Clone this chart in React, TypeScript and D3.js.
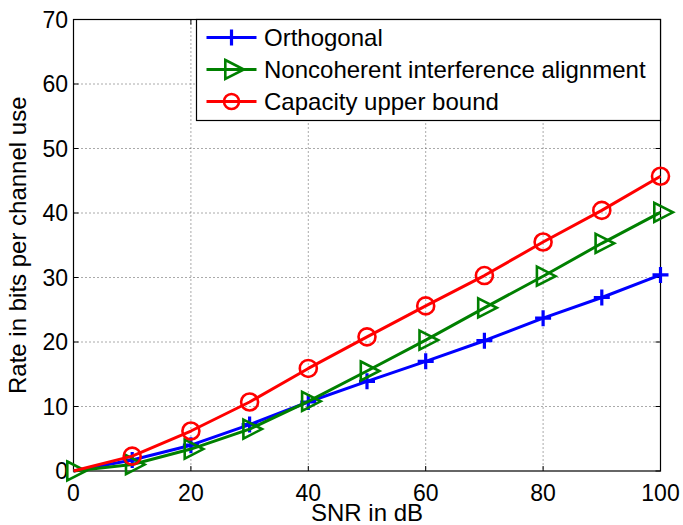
import React from "react";
import * as d3 from "d3";

// SNR grid (dB) and achievable rates (bits per channel use)
const snrDb = [0, 10, 20, 30, 40, 50, 60, 70, 80, 90, 100];
const orthogonal = [0, 1.7, 4.0, 7.2, 10.7, 13.9, 17.0, 20.2, 23.7, 26.9, 30.4];
const noncoherentIA = [0, 1.0, 3.4, 6.5, 10.8, 15.5, 20.3, 25.3, 30.2, 35.3, 40.1];
const capacityBound = [0, 2.3, 6.2, 10.7, 15.9, 20.8, 25.6, 30.3, 35.5, 40.4, 45.7];

const xTicks = [0, 20, 40, 60, 80, 100];
const yTicks = [0, 10, 20, 30, 40, 50, 60, 70];

const seriesNames = [
  "Orthogonal",
  "Noncoherent interference alignment",
  "Capacity upper bound",
];

type MarkerKind = "plus" | "tri" | "circle";

// first index that carries a marker (the origin is only marked on the IA curve)
const series: { name: string; values: number[]; color: string; marker: MarkerKind; markFrom: number }[] = [
  { name: seriesNames[0], values: orthogonal, color: "#0000ff", marker: "plus", markFrom: 1 },
  { name: seriesNames[1], values: noncoherentIA, color: "#008000", marker: "tri", markFrom: 0 },
  { name: seriesNames[2], values: capacityBound, color: "#ff0000", marker: "circle", markFrom: 1 },
];

const W = 683;
const H = 525;
const plot = { left: 73.5, right: 660.5, top: 19.5, bottom: 471 };
const FONT = "'Liberation Sans', Arial, Helvetica, sans-serif";

function Marker({ kind, x, y, color, r = 8.5 }: { kind: MarkerKind; x: number; y: number; color: string; r?: number }) {
  const sw = 2.6;
  if (kind === "plus") {
    const a = 8;
    return (
      <path
        d={`M${x - a},${y}H${x + a}M${x},${y - a}V${y + a}`}
        stroke={color}
        strokeWidth={sw + 0.6}
        fill="none"
      />
    );
  }
  if (kind === "circle") {
    return <circle cx={x} cy={y} r={r} stroke={color} strokeWidth={sw} fill="none" />;
  }
  // right-pointing triangle centred on its centroid
  const h = 9.5;
  return (
    <path
      d={`M${x - 6.2},${y - h}L${x + 12.4},${y}L${x - 6.2},${y + h}Z`}
      stroke={color}
      strokeWidth={sw}
      fill="none"
      strokeLinejoin="miter"
    />
  );
}

export default function App() {
  const x = d3.scaleLinear().domain([0, 100]).range([plot.left, plot.right]);
  const y = d3.scaleLinear().domain([0, 70]).range([plot.bottom, plot.top]);

  const line = (vals: number[]) =>
    d3
      .line<number>()
      .x((_, i) => x(snrDb[i]))
      .y((v) => y(v))(vals) || "";

  const tickLen = 5;
  const gridColor = "#555";

  const legend = { x0: 196.5, y0: 19.5, x1: 660.5, y1: 120.5 };
  const legendRows = [37.5, 69.5, 101.5];

  return (
    <svg
      width={W}
      height={H}
      style={{ position: "absolute", left: 0, top: 0, background: "#fff" }}
      fontFamily={FONT}
    >
      <rect x={0} y={0} width={W} height={H} fill="#fff" />

      {/* dotted grid */}
      <g stroke={gridColor} strokeWidth={1} strokeDasharray="1,3">
        {xTicks
          .filter((t) => t !== 0 && t !== 100)
          .map((t) => (
            <line key={`gx${t}`} x1={x(t)} x2={x(t)} y1={plot.top} y2={plot.bottom} />
          ))}
        {yTicks
          .filter((t) => t !== 0 && t !== 70)
          .map((t) => (
            <line key={`gy${t}`} x1={plot.left} x2={plot.right} y1={y(t)} y2={y(t)} />
          ))}
      </g>

      {/* tick marks on all four sides */}
      <g stroke="#000" strokeWidth={1}>
        {xTicks.map((t) => (
          <g key={`tx${t}`}>
            <line x1={x(t)} x2={x(t)} y1={plot.bottom} y2={plot.bottom - tickLen} />
            <line x1={x(t)} x2={x(t)} y1={plot.top} y2={plot.top + tickLen} />
          </g>
        ))}
        {yTicks.map((t) => (
          <g key={`ty${t}`}>
            <line x1={plot.left} x2={plot.left + tickLen} y1={y(t)} y2={y(t)} />
            <line x1={plot.right} x2={plot.right - tickLen} y1={y(t)} y2={y(t)} />
          </g>
        ))}
      </g>

      {/* axes frame */}
      <rect
        x={plot.left}
        y={plot.top}
        width={plot.right - plot.left}
        height={plot.bottom - plot.top}
        fill="none"
        stroke="#000"
        strokeWidth={1.2}
      />

      {/* tick labels */}
      <g fontSize={23} fill="#000">
        {xTicks.map((t) => (
          <text key={`lx${t}`} x={x(t)} y={501} textAnchor="middle">
            {t}
          </text>
        ))}
        {yTicks.map((t) => (
          <text key={`ly${t}`} x={68} y={y(t) + 8.2} textAnchor="end">
            {t}
          </text>
        ))}
      </g>

      {/* axis titles */}
      <text x={(plot.left + plot.right) / 2} y={521} textAnchor="middle" fontSize={24}>
        SNR in dB
      </text>
      <text
        transform={`translate(26,${(plot.top + plot.bottom) / 2}) rotate(-90)`}
        textAnchor="middle"
        fontSize={24}
      >
        Rate in bits per channel use
      </text>

      {/* series lines and markers */}
      {series.map((s) => (
        <g key={s.name}>
          <path d={line(s.values)} stroke={s.color} strokeWidth={3} fill="none" strokeLinejoin="round" />
          {s.values.map((v, i) =>
            i < s.markFrom ? null : (
              <Marker key={i} kind={s.marker} x={x(snrDb[i])} y={y(v)} color={s.color} />
            )
          )}
        </g>
      ))}

      {/* legend */}
      <rect
        x={legend.x0}
        y={legend.y0}
        width={legend.x1 - legend.x0}
        height={legend.y1 - legend.y0}
        fill="#fff"
        stroke="#000"
        strokeWidth={1.2}
      />
      {series.map((s, i) => (
        <g key={`lg${s.name}`}>
          <line x1={206.5} x2={256.5} y1={legendRows[i]} y2={legendRows[i]} stroke={s.color} strokeWidth={3} />
          <Marker kind={s.marker} x={231.5} y={legendRows[i]} color={s.color} r={7.5} />
          <text x={264} y={legendRows[i] + 8.5} fontSize={24} fill="#000">
            {s.name}
          </text>
        </g>
      ))}
    </svg>
  );
}
